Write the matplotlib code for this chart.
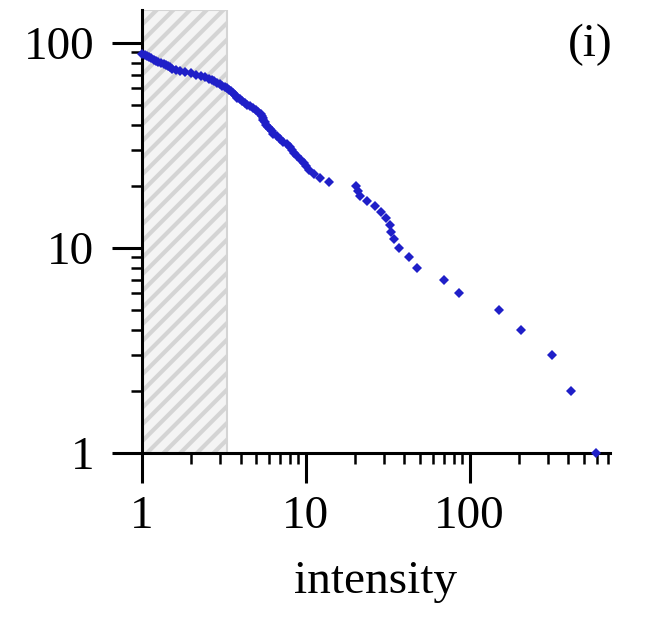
import numpy as np
import matplotlib
matplotlib.use("Agg")
import matplotlib.pyplot as plt
from matplotlib.ticker import LogLocator, NullFormatter, FixedLocator

# counts (number of events with intensity >= x)
counts = [88, 87, 86, 85, 84, 83, 82, 81,
          80, 79, 78, 77, 76, 75,
          74, 73, 72, 71,
          70, 69, 68, 67, 66,
          65, 64, 63, 62, 61, 60,
          59, 58, 57, 56, 55,
          54, 53, 52, 51, 50,
          49, 48, 47, 46, 45,
          44, 43, 42, 41, 40, 39, 38, 37,
          36, 35, 34, 33, 32, 31,
          30, 29, 28, 27, 26,
          25, 24, 23, 22, 21,
          20, 19, 18, 17, 16, 15, 14, 13, 12, 11, 10,
          9, 8, 7, 6, 5, 4, 3, 2, 1]
intensity = [1.00, 1.04, 1.07, 1.10, 1.14, 1.18, 1.22, 1.26,
             1.30, 1.36, 1.41, 1.45, 1.49, 1.53,
             1.62, 1.70, 1.82, 1.98,
             2.15, 2.28, 2.42, 2.56, 2.69,
             2.77, 2.88, 3.0, 3.1, 3.2, 3.3,
             3.40, 3.5, 3.6, 3.7, 3.75,
             3.8, 3.95, 4.1, 4.25, 4.4,
             4.55, 4.75, 4.95, 5.1, 5.3,
             5.4, 5.45, 5.5, 5.6, 5.75, 5.9, 6.05, 6.2,
             6.3, 6.7, 7.0, 7.3, 7.7, 8.0,
             8.2, 8.5, 8.9, 9.3, 9.7,
             10.0, 10.5, 11.2, 12.2, 13.8,
             20.4, 20.8, 21.5, 23.6, 26.5, 29, 31, 32.5, 33, 34.5, 37,
             43, 48, 70, 86, 151, 206, 320, 416, 594]

shade_from, shade_to = 1, 3.3
x_ticks = [1, 10, 100]
y_ticks = [1, 10, 100]
panel_label = "(i)"

plt.rcParams['font.family'] = ['Liberation Serif', 'DejaVu Serif']
plt.rcParams['hatch.linewidth'] = 3
plt.rcParams['hatch.color'] = '#d6d6d6'

fig = plt.figure(figsize=(6.59, 6.18), dpi=100)
ax = fig.add_axes([0.2155, 0.267, 0.71, 0.717])

# shaded (excluded) low-intensity range
ax.axvspan(shade_from, shade_to, facecolor='#f4f4f4', edgecolor='#d4d4d4',
           hatch='//', linewidth=1.5, zorder=0)
ax.plot(intensity, counts, linestyle='none', marker='D', markersize=5,
        color='#1f1fc8', markeredgewidth=0, zorder=3, clip_on=False)

ax.set_xscale('log')
ax.set_yscale('log')
ax.set_xlim(1, 720)
ax.set_ylim(1, 145)

ax.xaxis.set_major_locator(FixedLocator(x_ticks))
ax.yaxis.set_major_locator(FixedLocator(y_ticks))
ax.set_xticklabels([str(t) for t in x_ticks])
ax.set_yticklabels([str(t) for t in y_ticks])
ax.xaxis.set_minor_locator(LogLocator(base=10, subs=np.arange(2, 10)))
ax.yaxis.set_minor_locator(LogLocator(base=10, subs=np.arange(2, 10)))
ax.xaxis.set_minor_formatter(NullFormatter())
ax.yaxis.set_minor_formatter(NullFormatter())

for side in ['top', 'right']:
    ax.spines[side].set_visible(False)
for side in ['left', 'bottom']:
    ax.spines[side].set_linewidth(2.2)

ax.tick_params(which='major', direction='out', length=21.5, width=2.2,
               labelsize=34)
ax.tick_params(axis='y', which='major', pad=13)
ax.tick_params(axis='x', which='major', pad=9)
ax.tick_params(which='minor', direction='out', length=8, width=1.8)

ax.set_xlabel('intensity', fontsize=34, labelpad=16)
ax.text(0.957, 0.921, panel_label, fontsize=34, ha='center', va='center',
        transform=ax.transAxes)

fig.savefig('out.png', dpi=100)
